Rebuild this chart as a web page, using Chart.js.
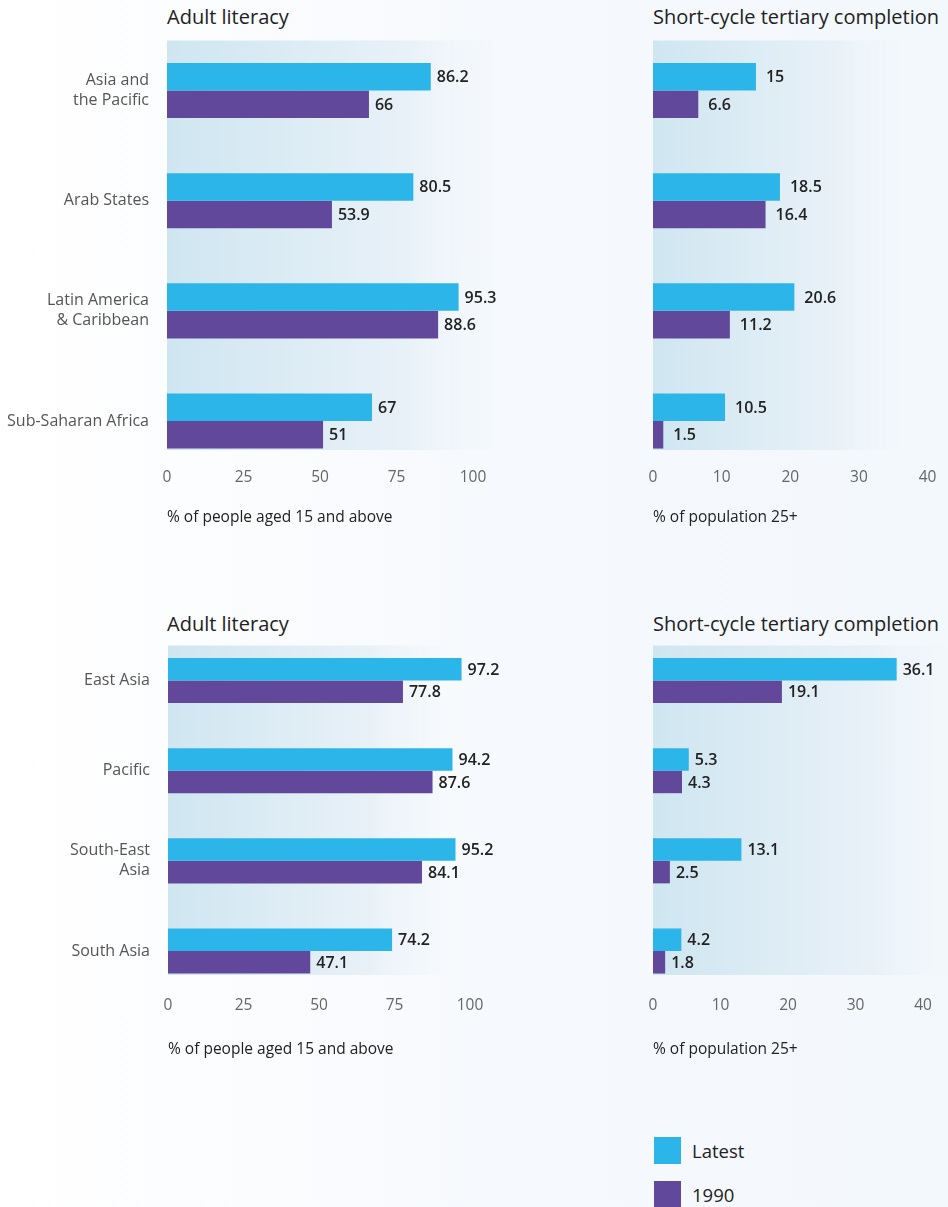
<!DOCTYPE html>
<html>
<head>
<meta charset="utf-8">
<script src="https://cdn.jsdelivr.net/npm/chart.js"></script>
<style>
  html, body { margin: 0; padding: 0; }
  body {
    width: 948px; height: 1207px; position: relative; overflow: hidden;
    background: linear-gradient(90deg, #ffffff 0px, #f6f9fd 520px, #f3f8fc 948px);
    font-family: "Open Sans", Lato, sans-serif;
  }
  canvas { position: absolute; }
  .title { position: absolute; font-size: 20px; color: #222; line-height: 24px; white-space: nowrap; }
  .legend { position: absolute; left: 654px; font-size: 18.5px; color: #222; }
  .legend div { position: absolute; left: 0; white-space: nowrap; line-height: 27px; }
  .legend span { display: inline-block; width: 27px; height: 27px; vertical-align: top; margin-right: 11px; }
</style>
</head>
<body>
<div class="title" style="left:167px; top:5px;">Adult literacy</div>
<div class="title" style="left:653px; top:5px;">Short-cycle tertiary completion</div>
<div class="title" style="left:167px; top:612px;">Adult literacy</div>
<div class="title" style="left:653px; top:612px;">Short-cycle tertiary completion</div>

<canvas id="c1" width="500" height="540" style="left:0; top:0;"></canvas>
<canvas id="c2" width="348" height="540" style="left:600px; top:0;"></canvas>
<canvas id="c3" width="500" height="480" style="left:0; top:600px;"></canvas>
<canvas id="c4" width="348" height="480" style="left:600px; top:600px;"></canvas>

<div class="legend" style="top:1137px;">
  <div style="top:0;"><span style="background:#2cb5e9"></span>Latest</div>
  <div style="top:44px;"><span style="background:#61489b"></span>1990</div>
</div>

<script>
// regions
const regionLabels = [["Asia and", "the Pacific"], "Arab States", ["Latin America", "& Caribbean"], "Sub-Saharan Africa"];
const regionLiteracyLatest = [86.2, 80.5, 95.3, 67];
const regionLiteracy1990 = [66, 53.9, 88.6, 51];
const regionTertiaryLatest = [15, 18.5, 20.6, 10.5];
const regionTertiary1990 = [6.6, 16.4, 11.2, 1.5];

// Asia-Pacific subregions
const subLabels = ["East Asia", "Pacific", ["South-East", "Asia"], "South Asia"];
const subLiteracyLatest = [97.2, 94.2, 95.2, 74.2];
const subLiteracy1990 = [77.8, 87.6, 84.1, 47.1];
const subTertiaryLatest = [36.1, 5.3, 13.1, 4.2];
const subTertiary1990 = [19.1, 4.3, 2.5, 1.8];

const literacyTicks = [0, 25, 50, 75, 100];
const tertiaryTicks = [0, 10, 20, 30, 40];

const latestColor = "#2cb5e9";
const oldColor = "#61489b";
const fontFamily = "'Open Sans', Lato, sans-serif";

// soft blue panel behind the bars
const panelBg = {
  id: "panelBg",
  beforeDatasetsDraw(chart, args, opts) {
    const a = chart.chartArea;
    const ctx = chart.ctx;
    const right = opts.right != null ? opts.right : chart.width;
    const g = ctx.createLinearGradient(a.left, 0, right, 0);
    g.addColorStop(0, "#cfe6f1");
    g.addColorStop(0.75, "#e9f1f8");
    g.addColorStop(1, "rgba(240,246,251,0.3)");
    ctx.save();
    ctx.fillStyle = g;
    ctx.fillRect(a.left, a.top - opts.above, right - a.left, a.bottom - a.top + opts.above + opts.below);
    ctx.restore();
  }
};

// numbers at the end of each bar
const barValues = {
  id: "barValues",
  afterDatasetsDraw(chart, args, opts) {
    const ctx = chart.ctx;
    ctx.save();
    ctx.font = "600 16px " + fontFamily;
    ctx.fillStyle = "#222";
    ctx.textBaseline = "middle";
    ctx.textAlign = "left";
    chart.data.datasets.forEach((ds, i) => {
      chart.getDatasetMeta(i).data.forEach((bar, j) => {
        ctx.fillText(String(ds.data[j]), bar.x + opts.gap, bar.y + 1);
      });
    });
    ctx.restore();
  }
};

function makeChart(id, o) {
  return new Chart(document.getElementById(id), {
    type: "bar",
    data: {
      labels: o.labels,
      datasets: [
        { label: "Latest", data: o.latest, backgroundColor: latestColor, clip: false },
        { label: "1990", data: o.old, backgroundColor: oldColor, clip: false }
      ]
    },
    options: {
      indexAxis: "y",
      responsive: false,
      animation: false,
      categoryPercentage: 0.5,
      barPercentage: 1,
      layout: { padding: { top: o.padTop, right: o.padRight, left: 0, bottom: 0 } },
      plugins: {
        legend: { display: false },
        tooltip: { enabled: false },
        panelBg: { above: o.above, below: o.below, right: o.bgRight },
        barValues: { gap: o.gap }
      },
      scales: {
        y: {
          type: "category",
          offset: false,
          grid: { display: false, drawTicks: false },
          border: { display: false },
          ticks: {
            display: o.showLabels,
            color: "#555",
            padding: 18,
            font: { family: fontFamily, size: 16, lineHeight: 1.25 }
          },
          afterFit: s => { s.width = o.yWidth; s.paddingTop = 0; s.paddingBottom = 0; }
        },
        x: {
          min: 0,
          max: o.ticks[o.ticks.length - 1],
          afterBuildTicks: s => { s.ticks = o.ticks.map(v => ({ value: v })); },
          grid: { display: false, drawTicks: false },
          border: { display: false },
          ticks: {
            color: "#666",
            padding: o.tickPad,
            font: { family: fontFamily, size: 15.5, lineHeight: 1.2 }
          },
          title: {
            display: true,
            text: o.axisTitle,
            align: "start",
            color: "#222",
            padding: { top: 0, bottom: o.titlePad },
            font: { family: fontFamily, size: 15.5, lineHeight: 1.2 }
          },
          afterFit: s => { s.height = o.xHeight; s.paddingLeft = 0; s.paddingRight = 0; }
        }
      }
    },
    plugins: [panelBg, barValues]
  });
}

makeChart("c1", {
  labels: regionLabels, latest: regionLiteracyLatest, old: regionLiteracy1990,
  ticks: literacyTicks, axisTitle: "% of people aged 15 and above", showLabels: true,
  yWidth: 167, padTop: 90.5, padRight: 27, xHeight: 119, tickPad: 47, titlePad: 13,
  above: 50, below: 29, bgRight: 492, gap: 6
});
makeChart("c2", {
  labels: regionLabels, latest: regionTertiaryLatest, old: regionTertiary1990,
  ticks: tertiaryTicks, axisTitle: "% of population 25+", showLabels: false,
  yWidth: 53, padTop: 90.5, padRight: 20.5, xHeight: 119, tickPad: 47, titlePad: 13,
  above: 50, below: 29, bgRight: 300, gap: 10
});
makeChart("c3", {
  labels: subLabels, latest: subLiteracyLatest, old: subLiteracy1990,
  ticks: literacyTicks, axisTitle: "% of people aged 15 and above", showLabels: true,
  yWidth: 168, padTop: 80.5, padRight: 30, xHeight: 129, tickPad: 45, titlePad: 21,
  above: 35, below: 24, bgRight: 440, gap: 6
});
makeChart("c4", {
  labels: subLabels, latest: subTertiaryLatest, old: subTertiary1990,
  ticks: tertiaryTicks, axisTitle: "% of population 25+", showLabels: false,
  yWidth: 53, padTop: 80.5, padRight: 25, xHeight: 129, tickPad: 45, titlePad: 21,
  above: 35, below: 24, bgRight: 348, gap: 6
});
</script>
</body>
</html>
